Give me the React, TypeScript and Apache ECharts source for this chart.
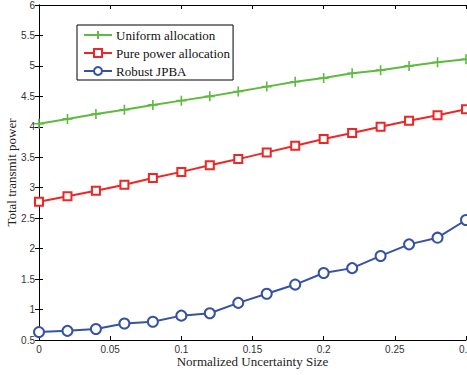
import React, { useEffect, useRef } from "react";
import * as echarts from "echarts";

// Normalized uncertainty sizes (x values)
const uncertainty = [0, 0.02, 0.04, 0.06, 0.08, 0.1, 0.12, 0.14, 0.16, 0.18, 0.2, 0.22, 0.24, 0.26, 0.28, 0.3];

// Total transmit power for each scheme
const uniformAllocation = [4.05, 4.13, 4.21, 4.28, 4.36, 4.43, 4.5, 4.58, 4.66, 4.74, 4.8, 4.88, 4.93, 5.0, 5.06, 5.11];
const purePowerAllocation = [2.77, 2.86, 2.95, 3.05, 3.16, 3.26, 3.37, 3.47, 3.58, 3.69, 3.8, 3.9, 4.0, 4.1, 4.19, 4.29];
const robustJPBA = [0.63, 0.65, 0.68, 0.77, 0.8, 0.9, 0.94, 1.11, 1.26, 1.41, 1.6, 1.68, 1.88, 2.07, 2.18, 2.47];

const seriesNames = ["Uniform allocation", "Pure power allocation", "Robust JPBA"];

const GREEN = "#5DBB3F";
const RED = "#EE2626";
const BLUE = "#3652A3";

const PLUS = "path://M5,0 L5,10 M0,5 L10,5";

const pairs = (ys: number[]) => uncertainty.map((x, i) => [x, ys[i]]);

export default function App() {
  const ref = useRef<HTMLDivElement>(null);

  useEffect(() => {
    if (!ref.current) return;
    const chart = echarts.init(ref.current, undefined, { renderer: "svg" });

    const axisLine = { show: true, lineStyle: { color: "#000", width: 1 } };
    const tick = { show: true, inside: true, length: 4, lineStyle: { color: "#000" } };
    const tickLabel = { fontFamily: "Liberation Sans", fontSize: 10, color: "#333" };

    chart.setOption({
      animation: false,
      backgroundColor: "#fff",
      grid: { left: 39, right: 1, top: 5, bottom: 35, containLabel: false, outerBoundsMode: "none" },
      legend: {
        orient: "vertical",
        left: 77,
        top: 25,
        data: seriesNames,
        backgroundColor: "#fff",
        borderColor: "#000",
        borderWidth: 1,
        borderRadius: 0,
        padding: [3, 3, 2, 6],
        itemWidth: 28,
        itemHeight: 10,
        itemGap: 4,
        textStyle: {
          fontFamily: "Liberation Serif",
          fontSize: 13,
          lineHeight: 14,
          color: "#111",
          padding: [0, 0, 0, -1],
        },
      },
      xAxis: [
        {
          type: "value",
          min: 0,
          max: 0.3,
          interval: 0.05,
          position: "bottom",
          name: "Normalized Uncertainty Size",
          nameLocation: "middle",
          nameGap: 15,
          nameMoveOverlap: false,
          nameTextStyle: { fontFamily: "Liberation Serif", fontSize: 13, color: "#222" },
          axisLine,
          axisTick: tick,
          axisLabel: { ...tickLabel, margin: 4, hideOverlap: false },
          splitLine: { show: false },
        },
        {
          type: "value",
          min: 0,
          max: 0.3,
          interval: 0.05,
          position: "top",
          axisLine,
          axisTick: tick,
          axisLabel: { show: false },
          splitLine: { show: false },
        },
      ],
      yAxis: [
        {
          type: "value",
          min: 0.5,
          max: 6,
          interval: 0.5,
          position: "left",
          name: "Total transmit power",
          nameLocation: "middle",
          nameGap: 21,
          nameMoveOverlap: false,
          nameTextStyle: { fontFamily: "Liberation Serif", fontSize: 13, color: "#222" },
          axisLine,
          axisTick: tick,
          axisLabel: { ...tickLabel, margin: 4 },
          splitLine: { show: false },
        },
        {
          type: "value",
          min: 0.5,
          max: 6,
          interval: 0.5,
          position: "right",
          axisLine,
          axisTick: tick,
          axisLabel: { show: false },
          splitLine: { show: false },
        },
      ],
      series: [
        {
          name: seriesNames[0],
          type: "line",
          data: pairs(uniformAllocation),
          symbol: PLUS,
          symbolSize: 10,
          lineStyle: { color: GREEN, width: 2 },
          itemStyle: { color: GREEN, borderColor: GREEN, borderWidth: 1.6 },
        },
        {
          name: seriesNames[1],
          type: "line",
          data: pairs(purePowerAllocation),
          symbol: "emptyRect",
          symbolSize: 8,
          lineStyle: { color: RED, width: 2 },
          itemStyle: { color: RED, borderColor: RED, borderWidth: 2 },
        },
        {
          name: seriesNames[2],
          type: "line",
          data: pairs(robustJPBA),
          symbol: "emptyCircle",
          symbolSize: 10,
          lineStyle: { color: BLUE, width: 2 },
          itemStyle: { color: BLUE, borderColor: BLUE, borderWidth: 2 },
        },
      ],
    });

    return () => chart.dispose();
  }, []);

  return (
    <div
      ref={ref}
      style={{ position: "fixed", left: 0, top: 0, width: 467, height: 375, background: "#fff" }}
    />
  );
}
